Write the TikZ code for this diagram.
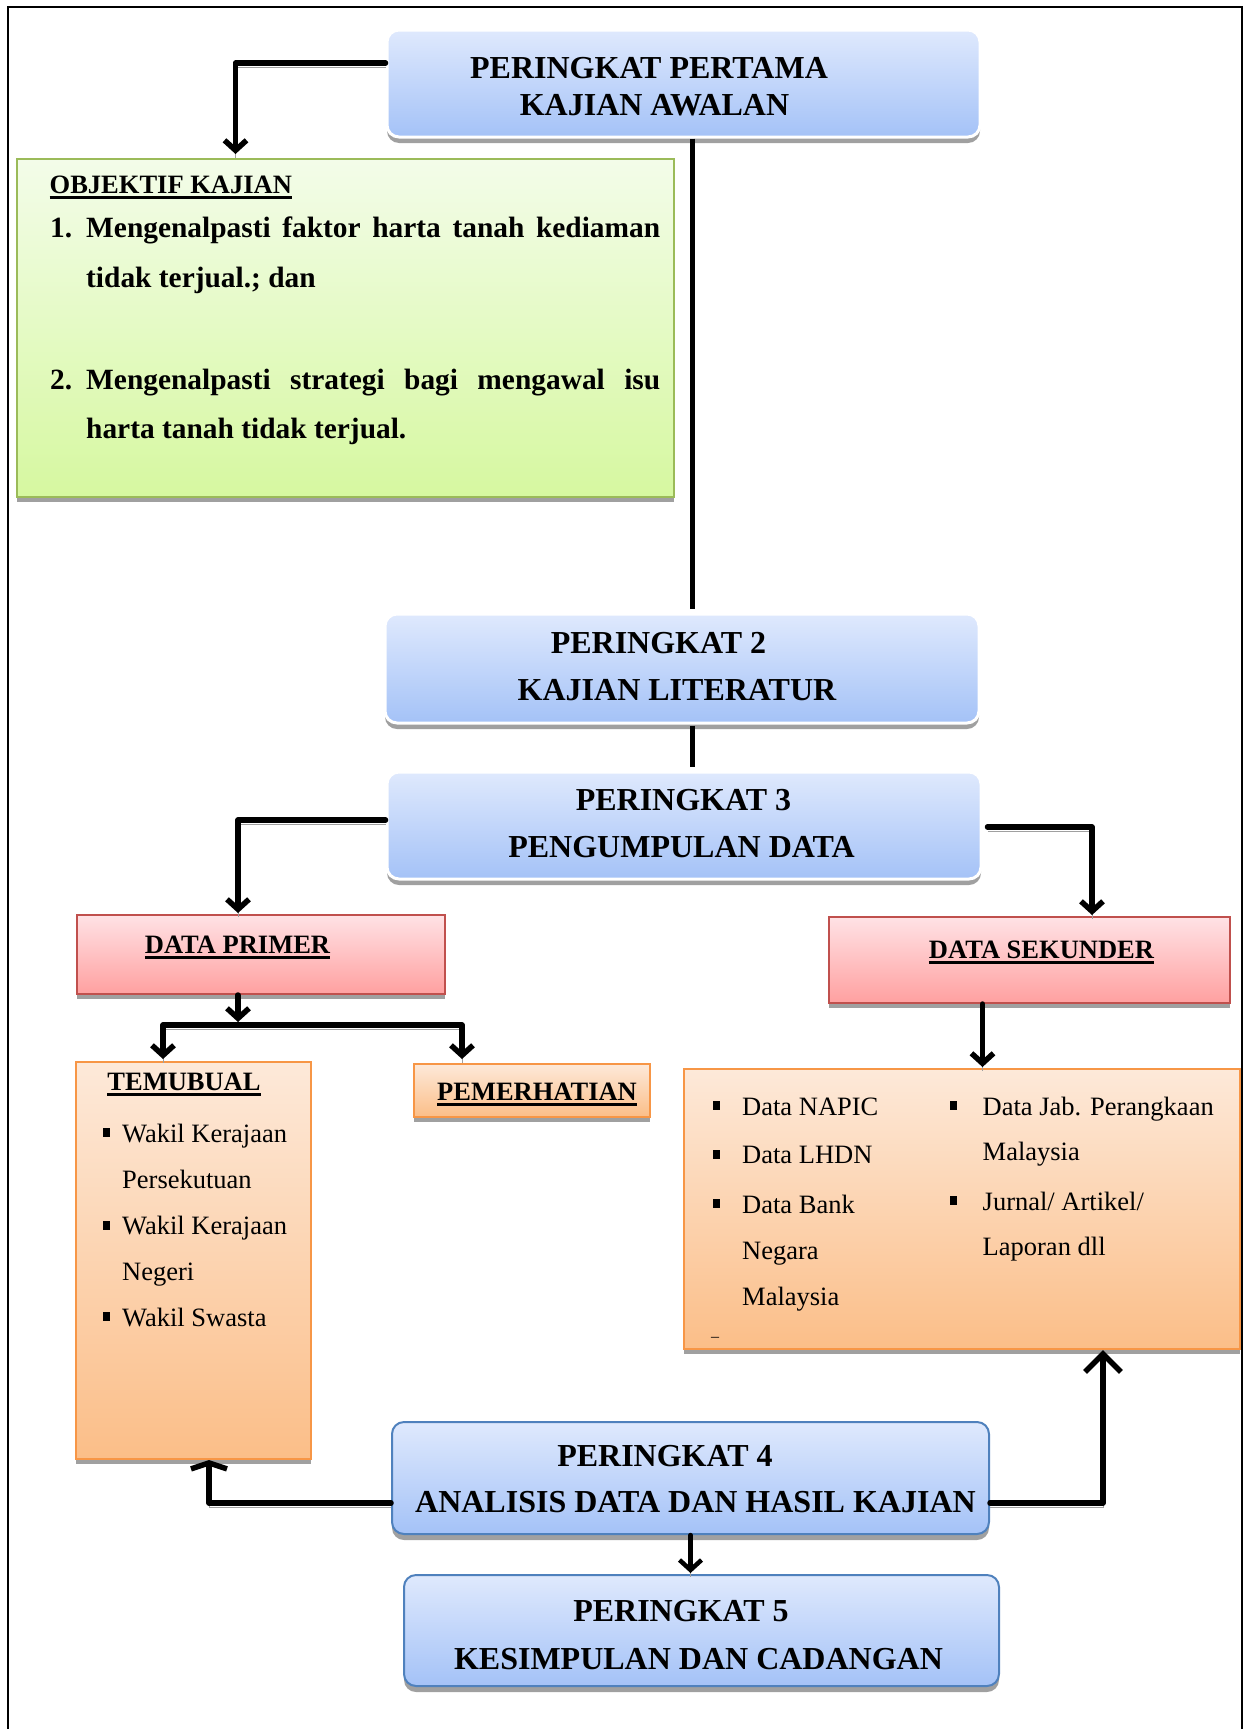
\documentclass[tikz,border=0pt]{standalone}
\usepackage{fontspec}
\setmainfont{Liberation Serif}
\usepackage{tikz}
\usetikzlibrary{positioning, shadows, arrows.meta}

\definecolor{birutop}{RGB}{223,233,253}
\definecolor{birubot}{RGB}{164,194,247}
\definecolor{biruborder}{RGB}{79,129,189}
\definecolor{hijautop}{RGB}{243,252,233}
\definecolor{hijaubot}{RGB}{214,248,160}
\definecolor{hijauborder}{RGB}{155,187,89}
\definecolor{merahtop}{RGB}{255,226,229}
\definecolor{merahbot}{RGB}{255,160,160}
\definecolor{merahborder}{RGB}{192,80,77}
\definecolor{jinggatop}{RGB}{253,233,217}
\definecolor{jinggabot}{RGB}{251,190,136}
\definecolor{jinggaborder}{RGB}{247,150,70}
\definecolor{bayang}{RGB}{160,160,160}

\newcommand{\garisbawah}[1]{\setbox0\hbox{#1}\rlap{\rule[-5.5pt]{\wd0}{2.5pt}}\box0}

\begin{document}
\begin{tikzpicture}[x=1pt, y=-1pt,
  kotakbiru/.style={rounded corners=12pt, top color=birutop, bottom color=birubot, draw=white, line width=3pt, general shadow={fill=bayang, shadow yshift=-6pt}, inner sep=0pt},
  kotakbirutepi/.style={kotakbiru, draw=biruborder, line width=2pt},
  kotakhijau/.style={top color=hijautop, bottom color=hijaubot, draw=hijauborder, line width=2pt, general shadow={fill=bayang, shadow yshift=-5pt}, inner sep=0pt},
  kotakmerah/.style={top color=merahtop, bottom color=merahbot, draw=merahborder, line width=2pt, general shadow={fill=bayang, shadow yshift=-5pt}, inner sep=0pt},
  kotakjingga/.style={top color=jinggatop, bottom color=jinggabot, draw=jinggaborder, line width=2pt, general shadow={fill=bayang, shadow yshift=-5pt}, inner sep=0pt},
  tajuk/.style={font=\bfseries\fontsize{32}{38}\selectfont, anchor=base, inner sep=0pt},
  subtajuk/.style={font=\bfseries\fontsize{26.5}{30}\selectfont, anchor=base, inner sep=0pt},
  objtext/.style={font=\bfseries\fontsize{29.4}{34}\selectfont, anchor=base west, inner sep=0pt},
  butir/.style={font=\fontsize{26.5}{30}\selectfont, anchor=base west, inner sep=0pt},
  garis/.style={line width=5pt},
  panah/.style={line width=5.5pt, line cap=round, line join=round, -{Straight Barb[length=10pt,width=22pt]}, preaction={draw=bayang, arrows=-, transform canvas={yshift=-4pt}}}]
  \useasboundingbox (0,0) rectangle (1250,1729);

  % bingkai luar
  \draw[line width=1.5pt] (8,1729) -- (8,7) -- (1242,7) -- (1242,1729);

  % peringkat 1
  \node[kotakbiru, minimum width=593pt, minimum height=107pt] (p1) at (683.5,83.5) {};
  \node[tajuk] (p1a) at (649,78) {PERINGKAT PERTAMA};
  \node[tajuk] (p1b) at (654.5,115) {KAJIAN AWALAN};

  % objektif kajian
  \node[kotakhijau, minimum width=657pt, minimum height=338pt] (obj) at (345.5,328) {};
  \node[subtajuk, anchor=base west] (objh) at (49.5,193) {\garisbawah{OBJEKTIF KAJIAN}};
  \node[objtext] (obj1n) at (50,237) {1.};
  \node[objtext] (obj1a) at (86,237) {\makebox[574pt][s]{Mengenalpasti faktor harta tanah kediaman}};
  \node[objtext] (obj1b) at (86,287) {tidak terjual.; dan};
  \node[objtext] (obj2n) at (50,389) {2.};
  \node[objtext] (obj2a) at (86,389) {\makebox[574pt][s]{Mengenalpasti strategi bagi mengawal isu}};
  \node[objtext] (obj2b) at (86,438) {harta tanah tidak terjual.};

  % peringkat 2 dan 3
  \node[kotakbiru, minimum width=594pt, minimum height=109pt] (p2) at (682,668.5) {};
  \node[tajuk] (p2a) at (658.5,653) {PERINGKAT 2};
  \node[tajuk] (p2b) at (677,700) {KAJIAN LITERATUR};

  \node[kotakbiru, minimum width=594pt, minimum height=107pt] (p3) at (684,825.5) {};
  \node[tajuk] (p3a) at (683.5,810) {PERINGKAT 3};
  \node[tajuk] (p3b) at (681.5,857) {PENGUMPULAN DATA};

  % data primer dan sekunder
  \node[kotakmerah, minimum width=368pt, minimum height=79pt] (dprim) at (261,954.5) {};
  \node[subtajuk] (dprimt) at (237.5,953) {\garisbawah{DATA PRIMER}};

  \node[kotakmerah, minimum width=401pt, minimum height=86pt] (dsek) at (1029.5,960) {};
  \node[subtajuk] (dsekt) at (1041.5,958) {\garisbawah{DATA SEKUNDER}};

  % temubual
  \node[kotakjingga, minimum width=235pt, minimum height=397pt] (temu) at (193.5,1260.5) {};
  \node[subtajuk] (temut) at (184,1090) {\garisbawah{TEMUBUAL}};
  \foreach \yy/\txt [count=\i] in {1142/Wakil Kerajaan, 1188/Persekutuan, 1234.5/Wakil Kerajaan, 1280/Negeri, 1326/Wakil Swasta}
    \node[butir] (tm\i) at (122,\yy) {\txt};
  \foreach \yy in {1142,1234.5,1326}
    \fill (103,\yy-14) rectangle (110,\yy-5);

  % pemerhatian
  \node[kotakjingga, minimum width=236pt, minimum height=53pt] (pem) at (532,1090.5) {};
  \node[subtajuk] (pemt) at (537,1100) {\garisbawah{PEMERHATIAN}};

  % senarai data sekunder
  \node[kotakjingga, minimum width=556pt, minimum height=280pt] (seklist) at (962,1209) {};
  \foreach \yy/\txt [count=\i] in {1115/Data NAPIC, 1163.5/Data LHDN, 1213/Data Bank, 1259/Negara, 1305.5/Malaysia}
    \node[butir] (sa\i) at (742,\yy) {\txt};
  \foreach \yy/\txt [count=\i] in {1115/Data Jab. Perangkaan, 1160.5/Malaysia, 1210/{Jurnal/ Artikel/}, 1255/Laporan dll}
    \node[butir] (sb\i) at (982.5,\yy) {\txt};
  \foreach \yy in {1115,1163.5,1213}
    \fill (713,\yy-14) rectangle (720,\yy-5);
  \foreach \yy in {1115,1210}
    \fill (950,\yy-14) rectangle (957,\yy-5);
  \node[inner sep=0pt, font=\fontsize{16}{18}\selectfont] (sekdash) at (715,1339) {--};

  % peringkat 4 dan 5
  \node[kotakbirutepi, minimum width=597pt, minimum height=112pt] (p4) at (690.5,1478) {};
  \node[tajuk] (p4a) at (665,1466) {PERINGKAT 4};
  \node[tajuk] (p4b) at (695.5,1512) {ANALISIS DATA DAN HASIL KAJIAN};

  \node[kotakbirutepi, minimum width=595pt, minimum height=111pt] (p5) at (701.5,1630.5) {};
  \node[tajuk] (p5a) at (681,1621) {PERINGKAT 5};
  \node[tajuk] (p5b) at (698.5,1669) {KESIMPULAN DAN CADANGAN};

  % penghubung
  \draw[panah, shorten >=4pt] ([yshift=20.5pt]p1.west) -| ([xshift=-110pt]obj.north);
  \draw[garis, shorten >=4pt] ([xshift=8.5pt]p1.south) -- ([xshift=8.5pt]p1.south |- p2.north);
  \draw[garis, shorten <=1pt, shorten >=4pt] ([xshift=10pt]p2.south) -- ([xshift=10pt]p2.south |- p3.north);

  \draw[panah, shorten >=1pt] ([yshift=5.5pt]p3.west) -| ([xshift=-23pt]dprim.north);
  \draw[panah, shorten <=5pt, shorten >=1pt] ([yshift=-1.5pt]p3.east) -| ([xshift=62.5pt]dsek.north);

  \coordinate (cabang) at (238,1025);
  \draw[panah, shorten >=3pt] ([xshift=-23pt]dprim.south) -- (cabang);
  \draw[panah, shorten >=2pt] (cabang) -| ([xshift=-30.5pt]temu.north);
  \draw[panah, shorten >=4pt] (cabang) -| ([xshift=-70pt]pem.north);

  \draw[panah, shorten >=1pt] ([xshift=-47pt]dsek.south) -- ([xshift=-47pt]dsek.south |- seklist.north);

  \draw[panah, -{Straight Barb[length=6pt,width=36pt]}] ([yshift=-25pt]p4.west) -| ([xshift=15.5pt]temu.south);
  \draw[panah, -{Straight Barb[length=18pt,width=36pt]}] ([yshift=-25pt]p4.east) -| ([xshift=141pt]seklist.south);
  \draw[panah, line width=4.5pt, shorten >=1pt] (p4.south) -- (p4.south |- p5.north);
\end{tikzpicture}
\end{document}
